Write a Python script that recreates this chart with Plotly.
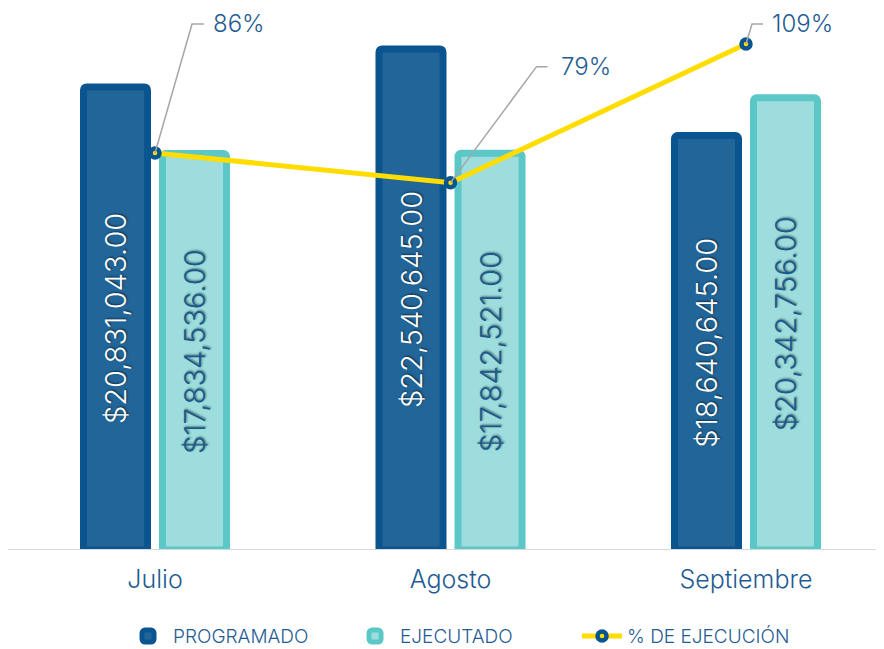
import plotly.graph_objects as go

months = ["Julio", "Agosto", "Septiembre"]
programado = [20831043.00, 22540645.00, 18640645.00]
ejecutado = [17834536.00, 17842521.00, 20342756.00]
pct_ejecucion = [0.856, 0.792, 1.091]
pct_labels = ["86%", "79%", "109%"]

FONT = "Inter"
TXT = "#1F5C94"
DARK_LINE = "#0A5590"
DARK_FILL = "#226699"
TEAL_LINE = "#5BC7C7"
TEAL_FILL = "#9DDDDD"
YELLOW = "#FFDD00"

def money(v):
    return "${:,.2f}".format(v)

fig = go.Figure()

fig.add_trace(go.Bar(
    x=months, y=programado, name="PROGRAMADO",
    width=0.2166, offset=-0.242,
    marker=dict(color=DARK_FILL, line=dict(color=DARK_LINE, width=7), cornerradius=3),
    text=[money(v) for v in programado],
    textposition="inside", insidetextanchor="middle", textangle=-90,
    insidetextfont=dict(family=FONT, size=29, weight=300, color="white",
                        shadow="1px 1px 2px rgba(0,0,0,0.55)"),
    hoverinfo="skip",
))
fig.add_trace(go.Bar(
    x=months, y=ejecutado, name="EJECUTADO",
    width=0.2166, offset=0.0254,
    marker=dict(color=TEAL_FILL, line=dict(color=TEAL_LINE, width=7), cornerradius=3),
    text=[money(v) for v in ejecutado],
    textposition="inside", insidetextanchor="middle", textangle=-90,
    insidetextfont=dict(family=FONT, size=29, weight=300, color="#1A5A8E",
                        shadow="1px 1px 2px rgba(0,0,0,0.45)"),
    hoverinfo="skip",
))
fig.add_trace(go.Scatter(
    x=months, y=pct_ejecucion, name="% DE EJECUCIÓN", yaxis="y2",
    mode="lines+markers",
    line=dict(color=YELLOW, width=5),
    marker=dict(size=9, color=YELLOW, line=dict(color=DARK_LINE, width=4.5)),
    hoverinfo="skip",
))

# leader lines (pixel offsets from each point) and labels
leader_paths = ["M0,0 L37,129 L49,129", "M0,0 L86,116 L97,116", "M0,0 L6,20 L17,20"]
label_shift = [(56, 129), (108, 116), (24, 20)]
for m, p, path, lab, (dx, dy) in zip(months, pct_ejecucion, leader_paths, pct_labels, label_shift):
    fig.add_shape(type="path", xref="x", yref="y2", xsizemode="pixel", ysizemode="pixel",
                  xanchor=m, yanchor=p, path=path,
                  line=dict(color="#A6A6A6", width=1.5), layer="above")
    fig.add_annotation(x=m, y=p, yref="y2", text=lab, showarrow=False,
                       xanchor="left", yanchor="middle", xshift=dx, yshift=dy,
                       font=dict(family=FONT, size=24, weight=300, color=TXT))

fig.add_shape(type="line", xref="paper", yref="y", x0=0, x1=1, y0=0, y1=0,
              line=dict(color="#D9D9D9", width=2), layer="above")

fig.update_layout(
    width=876, height=641,
    margin=dict(l=0, r=0, t=0, b=99),
    paper_bgcolor="white", plot_bgcolor="white",
    font=dict(family=FONT, color=TXT),
    barmode="overlay",
    showlegend=True,
    legend=dict(orientation="h", x=0.52, xanchor="center", yref="container", y=0.02,
                yanchor="middle", font=dict(family=FONT, size=19, weight=300, color=TXT),
                itemwidth=40, entrywidth=172, traceorder="normal"),
    xaxis=dict(type="category", range=[-0.4975, 2.467], showgrid=False, zeroline=False,
               showline=False, ticks="", ticklabelstandoff=12,
               tickfont=dict(family=FONT, size=25, weight=300, color=TXT)),
    yaxis=dict(range=[0, 24.38e6], visible=False, showgrid=False, zeroline=False),
    yaxis2=dict(range=[0, 1.1686], overlaying="y", side="right", visible=False,
                showgrid=False, zeroline=False),
)

fig.write_html("out.html")
